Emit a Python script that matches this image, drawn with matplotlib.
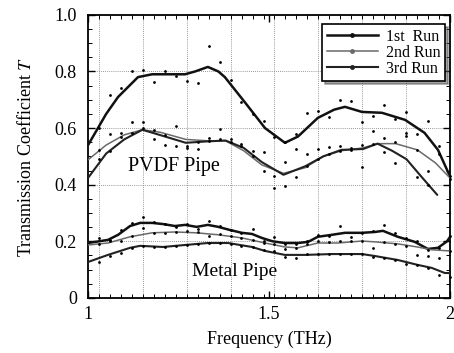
import numpy as np
import matplotlib
matplotlib.use("Agg")
import matplotlib.pyplot as plt
from matplotlib.lines import Line2D
from matplotlib.ticker import MultipleLocator

plt.rcParams['font.family'] = ['Liberation Serif', 'DejaVu Serif']
plt.rcParams['mathtext.fontset'] = 'stix'

# measured points (dots), same frequencies for every run
freq_dots = [1.030, 1.061, 1.091, 1.121, 1.152, 1.182, 1.212, 1.242, 1.273, 1.303, 1.333,
             1.364, 1.394, 1.424, 1.455, 1.485, 1.515, 1.545, 1.576, 1.606, 1.636, 1.667,
             1.697, 1.727, 1.758, 1.788, 1.818, 1.848, 1.879, 1.909, 1.939, 1.970, 2.000]

pvdf1_dots = [0.60, 0.717, 0.742, 0.802, 0.806, 0.763, 0.802, 0.784, 0.767, 0.76, 0.89,
              0.834, 0.77, 0.693, 0.65, 0.625, 0.57, 0.55, 0.58, 0.654, 0.661, 0.64,
              0.70, 0.696, 0.622, 0.643, 0.682, 0.633, 0.657, 0.58, 0.625, 0.537, 0.43]
pvdf2_dots = [0.523, 0.58, 0.583, 0.583, 0.60, 0.594, 0.575, 0.608, 0.537, 0.55, 0.565,
              0.597, 0.551, 0.537, 0.52, 0.449, 0.43, 0.48, 0.428, 0.465, 0.49, 0.534,
              0.537, 0.523, 0.54, 0.59, 0.565, 0.551, 0.573, 0.523, 0.449, 0.51, 0.42]
pvdf3_dots = [0.49, 0.52, 0.57, 0.622, 0.622, 0.56, 0.54, 0.537, 0.53, 0.527, 0.555,
              0.56, 0.56, 0.544, 0.50, 0.516, 0.39, 0.396, 0.527, 0.509, 0.527, 0.51,
              0.52, 0.53, 0.463, 0.544, 0.516, 0.477, 0.583, 0.428, 0.40, np.nan, np.nan]
metal1_dots = [0.21, 0.205, 0.24, 0.265, 0.286, 0.268, 0.262, 0.25, 0.26, 0.245, 0.272,
               0.254, 0.24, 0.23, 0.244, 0.20, 0.215, 0.19, 0.19, 0.20, 0.224, 0.22,
               0.254, 0.215, 0.23, 0.235, 0.258, 0.23, 0.21, 0.20, 0.17, 0.175, 0.22]
metal2_dots = [0.19, 0.20, 0.20, 0.22, 0.248, 0.23, 0.23, 0.234, 0.235, 0.232, 0.22,
               0.225, 0.22, 0.21, 0.205, 0.195, 0.19, 0.172, 0.176, 0.19, 0.20, 0.196,
               0.20, 0.202, 0.20, 0.177, 0.196, 0.19, 0.185, 0.152, 0.148, 0.141, 0.165]
metal3_dots = [0.127, 0.148, 0.16, 0.175, 0.185, 0.18, 0.18, 0.182, 0.187, 0.19, 0.194,
               0.195, 0.192, 0.185, 0.18, 0.17, 0.165, 0.145, 0.14, 0.155, 0.155, 0.155,
               0.155, 0.155, 0.155, 0.145, 0.14, 0.135, 0.12, 0.115, 0.105, 0.08, 0.074]

# smoothed curves
pvdf1_f = [1.0, 1.05, 1.083, 1.138, 1.177, 1.23, 1.268, 1.296, 1.331, 1.36, 1.378, 1.434,
           1.489, 1.544, 1.58, 1.635, 1.68, 1.71, 1.757, 1.812, 1.876, 1.93, 1.967, 2.0]
pvdf1_v = [0.54, 0.65, 0.71, 0.78, 0.79, 0.79, 0.79, 0.80, 0.816, 0.80, 0.78, 0.69,
           0.60, 0.548, 0.57, 0.636, 0.665, 0.675, 0.657, 0.654, 0.629, 0.583, 0.523, 0.43]
pvdf2_f = [1.0, 1.05, 1.10, 1.15, 1.20, 1.27, 1.33, 1.38, 1.43, 1.48, 1.54, 1.60, 1.65,
           1.70, 1.76, 1.80, 1.85, 1.91, 1.96, 2.0]
pvdf2_v = [0.488, 0.54, 0.576, 0.594, 0.585, 0.56, 0.555, 0.555, 0.52, 0.47, 0.44, 0.46,
           0.50, 0.52, 0.53, 0.545, 0.545, 0.523, 0.477, 0.424]
pvdf3_f = [1.0, 1.05, 1.10, 1.15, 1.20, 1.27, 1.33, 1.38, 1.43, 1.48, 1.54, 1.60, 1.65,
           1.70, 1.76, 1.80, 1.84, 1.88, 1.92, 1.965]
pvdf3_v = [0.424, 0.51, 0.56, 0.594, 0.575, 0.548, 0.553, 0.556, 0.53, 0.48, 0.435, 0.465,
           0.50, 0.523, 0.526, 0.545, 0.52, 0.49, 0.43, 0.364]
metal1_f = [1.0, 1.055, 1.083, 1.116, 1.144, 1.177, 1.207, 1.24, 1.268, 1.30, 1.331, 1.36,
            1.392, 1.425, 1.453, 1.48, 1.51, 1.544, 1.58, 1.608, 1.635, 1.674, 1.71, 1.757,
            1.793, 1.815, 1.856, 1.903, 1.939, 1.967, 1.992, 2.0]
metal1_v = [0.194, 0.205, 0.223, 0.254, 0.265, 0.265, 0.261, 0.254, 0.258, 0.251, 0.258,
            0.251, 0.24, 0.23, 0.226, 0.212, 0.2, 0.194, 0.194, 0.198, 0.216, 0.223, 0.23,
            0.23, 0.233, 0.237, 0.216, 0.198, 0.173, 0.177, 0.20, 0.215]
metal2_f = [1.0, 1.055, 1.116, 1.177, 1.24, 1.30, 1.36, 1.425, 1.489, 1.544, 1.58, 1.635,
            1.69, 1.757, 1.793, 1.856, 1.91, 1.95, 2.0]
metal2_v = [0.187, 0.194, 0.216, 0.23, 0.233, 0.23, 0.223, 0.212, 0.194, 0.18, 0.177,
            0.194, 0.194, 0.201, 0.198, 0.191, 0.18, 0.17, 0.166]
metal3_f = [1.0, 1.055, 1.116, 1.144, 1.207, 1.268, 1.331, 1.387, 1.453, 1.489, 1.544,
            1.60, 1.674, 1.757, 1.793, 1.856, 1.91, 1.95, 1.986, 2.0]
metal3_v = [0.127, 0.152, 0.177, 0.184, 0.18, 0.187, 0.194, 0.194, 0.18, 0.166, 0.152,
            0.152, 0.155, 0.155, 0.148, 0.134, 0.117, 0.106, 0.088, 0.088]

run_labels = ["1st  Run", "2nd Run", "3rd Run"]
run_colors = ["#111111", "#6a6a6a", "#222222"]
run_widths = [1.8, 1.1, 1.5]

fig = plt.figure(figsize=(4.54, 3.53), dpi=100)
ax = fig.add_axes([0.194, 0.156, 0.797, 0.802])

# background grid (dotted)
for g in freq_dots[0::4]:
    ax.axvline(g, color="#777777", lw=0.6, ls=(0, (1, 1.5)), zorder=0)
for g in [0.2, 0.4, 0.6, 0.8]:
    ax.axhline(g, color="#777777", lw=0.6, ls=(0, (1, 1.5)), zorder=0)

curves = [(pvdf1_f, pvdf1_v, 0), (pvdf2_f, pvdf2_v, 1), (pvdf3_f, pvdf3_v, 2),
          (metal1_f, metal1_v, 0), (metal2_f, metal2_v, 1), (metal3_f, metal3_v, 2)]
for f, v, i in curves:
    ax.plot(f, v, color=run_colors[i], lw=run_widths[i], solid_capstyle="round", zorder=3)

for d in [pvdf1_dots, pvdf2_dots, pvdf3_dots, metal1_dots, metal2_dots, metal3_dots]:
    ax.plot(freq_dots, d, "o", color="black", ms=2.0, mew=0, zorder=4, clip_on=False)

ax.text(1.11, 0.463, "PVDF Pipe", fontsize=14.5, va="center", ha="left")
ax.text(1.287, 0.095, "Metal Pipe", fontsize=14, va="center", ha="left")

ax.set_xlim(1.0, 2.0)
ax.set_ylim(0, 1.0)
ax.set_xticks([1.0, 1.5, 2.0])
ax.set_xticklabels(["1", "1.5", "2"])
ax.set_yticks([0, 0.2, 0.4, 0.6, 0.8, 1.0])
ax.set_yticklabels(["0", "0.2", "0.4", "0.6", "0.8", "1.0"])
ax.xaxis.set_minor_locator(MultipleLocator(1 / 33))
ax.yaxis.set_minor_locator(MultipleLocator(0.05))
ax.tick_params(which="both", direction="in", top=True, right=True, labelsize=13)
ax.tick_params(which="major", length=5, width=1)
ax.tick_params(which="minor", length=3, width=0.7)
ax.tick_params(axis="y", pad=8)
ax.tick_params(axis="x", pad=6)
for s in ax.spines.values():
    s.set_linewidth(1.3)

ax.set_xlabel("Frequency (THz)", fontsize=13, labelpad=5)
ax.set_ylabel("Transmission Coefficient $T$", fontsize=13, labelpad=14)

handles = [Line2D([0], [0], color=run_colors[i], lw=run_widths[i], marker="o", ms=2.5)
           for i in range(3)]
leg = ax.legend(handles, run_labels, loc="upper right", fontsize=11.5, numpoints=1,
                handlelength=3.2, handletextpad=0.5, labelspacing=0.0,
                borderpad=0.3, borderaxespad=0.3, fancybox=False, shadow=True,
                framealpha=1, bbox_to_anchor=(1.0, 0.985))
leg.get_frame().set_edgecolor("black")
leg.get_frame().set_linewidth(1.2)

fig.savefig("out.png", dpi=100)
